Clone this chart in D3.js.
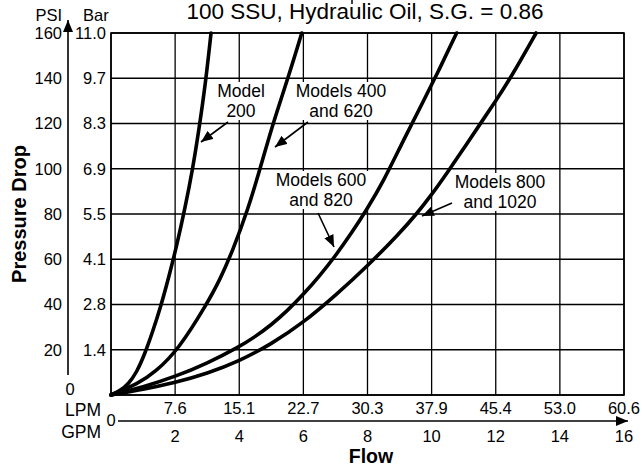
<!DOCTYPE html>
<html>
<head>
<meta charset="utf-8">
<script src="https://cdn.jsdelivr.net/npm/d3@7"></script>
<style>
  body { margin: 0; background: #fff; }
  svg text { font-family: "Liberation Sans", Arial, Helvetica, sans-serif; fill: #000; }
</style>
</head>
<body>
<svg id="chart" width="642" height="473" viewBox="0 0 642 473"></svg>
<script>
// flow (GPM) vs pressure drop (PSI)
const model200 = [[0,0],[0.3,2],[0.55,5],[0.8,10],[1.05,18],[1.3,28],[1.55,39],[1.8,52],[2.05,66],[2.3,82],[2.55,100],[2.75,118],[2.95,138],[3.12,160]];
const model400 = [[0,0],[0.85,5],[1.37,10],[2.1,20],[2.98,40],[3.4,51],[3.8,64],[4.27,82],[4.65,100],[5.05,120],[5.52,140],[5.95,160]];
const model600 = [[0,0],[1,3.5],[2,8.1],[3,14],[4,21.3],[4.5,25.8],[5,31],[5.5,37.2],[6,44.5],[6.5,52.5],[7,61.5],[7.5,71.5],[8,82.5],[8.5,94.5],[9.1,112],[9.73,129.5],[10.26,144.5],[10.78,160]];
const model800 = [[0,0],[1,2.5],[2,5.5],[3,9.5],[4,15],[5,22.5],[6,32],[7,44],[8,57],[9,71.5],[9.5,79.5],[10,88.5],[10.5,98.5],[11,109],[11.5,119.5],[12,130],[12.5,141],[13.26,160]];

const psiTicks = [20, 40, 60, 80, 100, 120, 140, 160];
const barLabels = ["1.4", "2.8", "4.1", "5.5", "6.9", "8.3", "9.7", "11.0"];
const gpmTicks = [2, 4, 6, 8, 10, 12, 14, 16];
const lpmLabels = ["7.6", "15.1", "22.7", "30.3", "37.9", "45.4", "53.0", "60.6"];
const gridX = [0, 2, 4, 6, 8, 10, 12, 14, 16];
const gridY = [0, 20, 40, 60, 80, 100, 120, 140, 160];

const svg = d3.select("#chart");
const plotL = 111, plotT = 33, plotR = 624, plotB = 395;

const x = d3.scaleLinear().domain([0, 16]).range([plotL, plotR]);
const y = d3.scaleLinear().domain([0, 160]).range([plotB, plotT]);

// arrow head marker
svg.append("defs").append("marker")
    .attr("id", "head")
    .attr("viewBox", "0 0 12 10")
    .attr("refX", 12).attr("refY", 5)
    .attr("markerWidth", 12).attr("markerHeight", 10)
    .attr("markerUnits", "userSpaceOnUse")
    .attr("orient", "auto")
  .append("path").attr("d", "M0,0L12,5L0,10Z").attr("fill", "#000");

// grid
const grid = svg.append("g").attr("stroke", "#000").attr("stroke-width", 1.3);
grid.selectAll(".gx").data(gridX).join("line")
    .attr("x1", d => x(d)).attr("x2", d => x(d))
    .attr("y1", plotT).attr("y2", plotB);
grid.selectAll(".gy").data(gridY).join("line")
    .attr("x1", plotL).attr("x2", plotR)
    .attr("y1", d => y(d)).attr("y2", d => y(d));
svg.append("rect")
    .attr("x", plotL).attr("y", plotT).attr("width", plotR - plotL).attr("height", plotB - plotT)
    .attr("fill", "none").attr("stroke", "#000").attr("stroke-width", 1.6);

// annotations (pixel layout) - white boxes go under the curves, text on top
const notes = [
  {lines: ["Model", "200"], cx: 241, by: 97, from: [228, 122], to: [201, 142]},
  {lines: ["Models 400", "and 620"], cx: 341, by: 97, from: [308, 122], to: [275, 147]},
  {lines: ["Models 600", "and 820"], cx: 321, by: 186, from: [318, 213], to: [334, 247]},
  {lines: ["Models 800", "and 1020"], cx: 500, by: 188, from: [452, 203], to: [422, 216]}
];
const boxLayer = svg.append("g");
const curveLayer = svg.append("g");
const noteLayer = svg.append("g");

notes.forEach(n => {
  const t = noteLayer.append("text")
      .attr("text-anchor", "middle")
      .style("font-size", "17.5px");
  n.lines.forEach((s, i) => {
    t.append("tspan").attr("x", n.cx).attr("y", n.by + i * 20).text(s);
  });
  const bb = t.node().getBBox();
  boxLayer.append("rect")
      .attr("x", bb.x - 3).attr("y", bb.y + 1)
      .attr("width", bb.width + 6).attr("height", bb.height - 2)
      .attr("fill", "#fff");
  noteLayer.append("line")
      .attr("x1", n.from[0]).attr("y1", n.from[1])
      .attr("x2", n.to[0]).attr("y2", n.to[1])
      .attr("stroke", "#000").attr("stroke-width", 1.6)
      .attr("marker-end", "url(#head)");
});

// curves
const line = d3.line().x(d => x(d[0])).y(d => y(d[1])).curve(d3.curveBasis);
curveLayer.selectAll("path")
    .data([model200, model400, model600, model800])
    .join("path")
    .attr("d", line)
    .attr("fill", "none")
    .attr("stroke", "#000")
    .attr("stroke-width", 3.6)
    .attr("stroke-linecap", "round");

// left PSI / Bar axis
svg.append("line")
    .attr("x1", 68).attr("x2", 68).attr("y1", 375).attr("y2", 20)
    .attr("stroke", "#000").attr("stroke-width", 1.6)
    .attr("marker-end", "url(#head)");
svg.selectAll(".psi").data(psiTicks).join("text")
    .attr("x", 62).attr("y", d => y(d)).attr("dy", "0.35em")
    .attr("text-anchor", "end").style("font-size", "16.5px")
    .text(d => d);
svg.selectAll(".bar").data(psiTicks).join("text")
    .attr("x", 106).attr("y", d => y(d)).attr("dy", "0.35em")
    .attr("text-anchor", "end").style("font-size", "16.5px")
    .text((d, i) => barLabels[i]);
svg.append("text").attr("x", 70).attr("y", 395).attr("text-anchor", "middle")
    .style("font-size", "16.5px").text("0");
svg.append("text").attr("x", 62).attr("y", 21).attr("text-anchor", "end")
    .style("font-size", "16.5px").text("PSI");
svg.append("text").attr("x", 83).attr("y", 21)
    .style("font-size", "16.5px").text("Bar");

// bottom LPM / GPM axis
svg.selectAll(".lpm").data(gpmTicks).join("text")
    .attr("x", d => x(d)).attr("y", 414)
    .attr("text-anchor", "middle").style("font-size", "16.5px")
    .text((d, i) => lpmLabels[i]);
svg.append("line")
    .attr("x1", 118).attr("x2", 628).attr("y1", 421).attr("y2", 421)
    .attr("stroke", "#000").attr("stroke-width", 1.6)
    .attr("marker-end", "url(#head)");
svg.selectAll(".gpm").data(gpmTicks).join("text")
    .attr("x", d => x(d)).attr("y", 442)
    .attr("text-anchor", "middle").style("font-size", "16.5px")
    .text(d => d);
svg.append("text").attr("x", 111).attr("y", 426).attr("text-anchor", "middle")
    .style("font-size", "16.5px").text("0");
svg.append("text").attr("x", 101).attr("y", 416).attr("text-anchor", "end")
    .style("font-size", "17.5px").text("LPM");
svg.append("text").attr("x", 101).attr("y", 438).attr("text-anchor", "end")
    .style("font-size", "17.5px").text("GPM");

// titles
svg.append("text").attr("x", 371).attr("y", 463).attr("text-anchor", "middle")
    .style("font-size", "19.5px").style("font-weight", "bold").text("Flow");
svg.append("text")
    .attr("transform", "translate(26,214) rotate(-90)")
    .attr("text-anchor", "middle")
    .style("font-size", "20px").style("font-weight", "bold")
    .text("Pressure Drop");
svg.append("text").attr("x", 365).attr("y", 19).attr("text-anchor", "middle")
    .style("font-size", "22.5px")
    .text("100 SSU, Hydraulic Oil, S.G. = 0.86");
svg.append("line").attr("x1", 352).attr("x2", 352).attr("y1", 0).attr("y2", 4)
    .attr("stroke", "#000").attr("stroke-width", 1.5);
</script>
</body>
</html>
